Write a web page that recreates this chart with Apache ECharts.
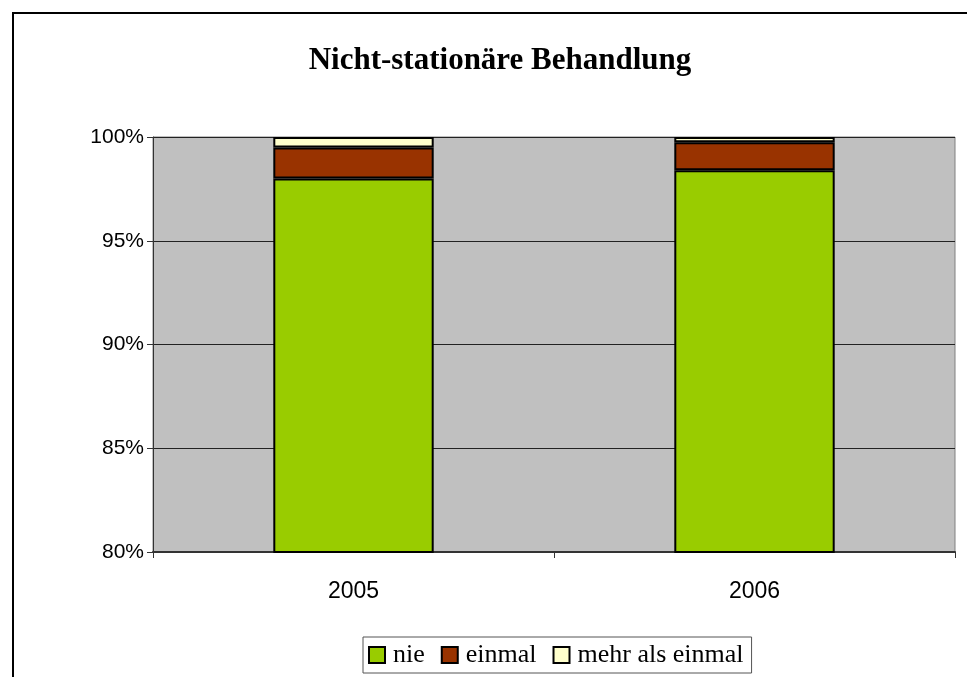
<!DOCTYPE html>
<html>
<head>
<meta charset="utf-8">
<script src="https://cdn.jsdelivr.net/npm/echarts@6/dist/echarts.min.js"></script>
<style>
  html, body { margin: 0; padding: 0; background: #fff; }
  #chart { width: 967px; height: 677px; }
</style>
</head>
<body>
<div id="chart"></div>
<script>
// Anteile in Prozent je Jahr
const categories = ['2005', '2006'];
const nie = [98.0, 98.4];
const einmal = [1.5, 1.35];
const mehrAlsEinmal = [0.5, 0.25];
const yTicks = [80, 85, 90, 95, 100];

const chart = echarts.init(document.getElementById('chart'));

function barSeries(name, data, color) {
  return {
    name: name,
    type: 'bar',
    stack: 'total',
    data: data,
    barCategoryGap: '60%',
    itemStyle: { color: color, borderColor: '#000', borderWidth: 2 },
    emphasis: { disabled: true }
  };
}

chart.setOption({
  animation: false,
  backgroundColor: '#fff',
  title: {
    text: 'Nicht-stationäre Behandlung',
    left: 495,
    textAlign: 'center',
    top: 40,
    textStyle: { fontFamily: 'Liberation Serif', fontWeight: 'bold', fontSize: 31, color: '#000' }
  },
  graphic: [{
    type: 'rect',
    shape: { x: 13, y: 13, width: 1000, height: 1000 },
    style: { fill: 'none', stroke: '#000', lineWidth: 2 },
    silent: true
  }],
  legend: {
    left: 363,
    top: 637,
    padding: [5, 8, 5, 5],
    itemGap: 16,
    itemWidth: 16,
    itemHeight: 16,
    icon: 'rect',
    borderColor: '#555',
    borderWidth: 1,
    backgroundColor: '#fff',
    textStyle: { fontFamily: 'Liberation Serif', fontSize: 26, color: '#000', padding: [0, 0, 0, 3] },
    itemStyle: { borderColor: '#000', borderWidth: 2 },
    data: ['nie', 'einmal', 'mehr als einmal']
  },
  grid: {
    left: 153,
    top: 137,
    width: 802,
    height: 415,
    show: true,
    backgroundColor: '#c0c0c0',
    borderColor: '#808080',
    borderWidth: 1
  },
  xAxis: {
    type: 'category',
    data: categories,
    axisLine: { show: true, lineStyle: { color: '#333', width: 2 } },
    axisTick: { show: true, length: 6, lineStyle: { color: '#333' } },
    axisLabel: { fontFamily: 'Liberation Sans', fontSize: 23, color: '#000', margin: 28 }
  },
  yAxis: {
    type: 'value',
    min: yTicks[0],
    max: yTicks[yTicks.length - 1],
    interval: 5,
    axisLine: { show: true, lineStyle: { color: '#333', width: 1 } },
    axisTick: { show: true, length: 6, lineStyle: { color: '#333' } },
    splitLine: { show: true, lineStyle: { color: '#222', width: 1 } },
    axisLabel: { fontFamily: 'Liberation Sans', fontSize: 21, color: '#000', margin: 9, formatter: '{value}%' }
  },
  series: [
    barSeries('nie', nie, '#99cc00'),
    barSeries('einmal', einmal, '#993300'),
    barSeries('mehr als einmal', mehrAlsEinmal, '#ffffcc')
  ]
});
</script>
</body>
</html>
